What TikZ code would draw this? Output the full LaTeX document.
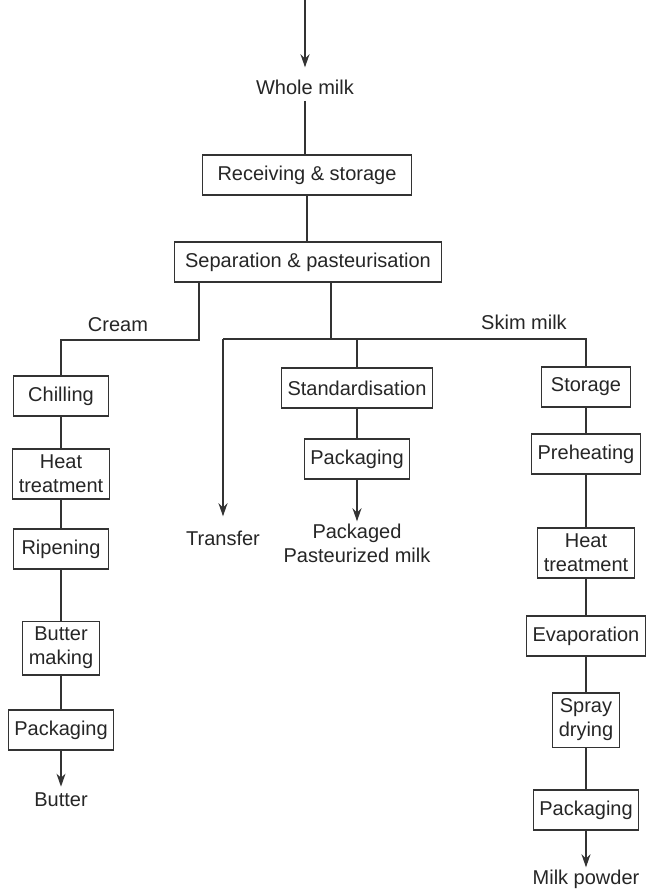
\documentclass[tikz,border=0pt]{standalone}
\usepackage{fontspec}
\setmainfont{Liberation Sans}
\usetikzlibrary{arrows.meta}

\tikzset{
  stage/.style={draw=black!80, line width=0.55pt, text=black!85, align=center,
    inner xsep=3pt, inner ysep=3pt, minimum height=20pt},
  flowtext/.style={text=black!85, align=center, inner sep=3pt},
  flow/.style={draw=black!80, line width=0.55pt},
  flowarrow/.style={flow, -{Stealth[length=6.5pt,width=4.5pt]}}
}

\begin{document}
\begin{tikzpicture}[x=0.5pt, y=-0.5pt]
\useasboundingbox[fill=white] (0,0) rectangle (653,891);

% main line
\coordinate (top) at (305,0);
\node[flowtext] (whole) at (305,87) {Whole milk};
\node[stage, minimum width=104.5pt] (recv) at (307,175) {Receiving \& storage};
\node[stage, minimum width=133.5pt] (sep) at (308,262) {Separation \& pasteurisation};
\draw[flowarrow, shorten >=3pt] (top) -- (whole.north);
\draw[flow] (whole.south) -- (whole.south |- recv.north);
\draw[flow] (recv.south) -- (recv.south |- sep.north);

% split
\coordinate (cL) at (199,340);
\coordinate (cR) at (331,339);
\node[flowtext] (cream) at (118,325) {Cream};
\node[flowtext] (skim) at (524,322) {Skim milk};

% cream line
\node[stage, minimum width=47.5pt] (chill) at (61,396) {Chilling};
\node[stage, minimum width=47.5pt] (heatL) at (61,474) {Heat\\treatment};
\node[stage, minimum width=47.5pt] (ripen) at (61,549) {Ripening};
\node[stage] (butmk) at (61,648) {Butter\\making};
\node[stage] (packL) at (61,730) {Packaging};
\node[flowtext] (butter) at (61,800) {Butter};
\draw[flow] (sep.south -| cL) -- (cL) -| (chill.north);
\draw[flow] (chill) -- (heatL);
\draw[flow] (heatL) -- (ripen);
\draw[flow] (ripen) -- (butmk);
\draw[flow] (butmk) -- (packL);
\draw[flowarrow] (packL) -- (butter);

% market milk
\node[flowtext] (transfer) at (223,538) {Transfer};
\node[stage] (std) at (357,388) {Standardisation};
\node[stage] (packM) at (357,459) {Packaging};
\node[flowtext, inner sep=1pt] (pasteur) at (357,543) {Packaged\\Pasteurized milk};
\draw[flow] (sep.south -| cR) -- (cR);
\draw[flowarrow, shorten >=4pt] (transfer.north |- cR) -- (transfer.north);
\draw[flow] (std.north |- cR) -- (std.north);
\draw[flow] (std) -- (packM);
\draw[flowarrow] (packM) -- (pasteur);

% skim milk line
\node[stage, minimum width=44.5pt] (store) at (586,387) {Storage};
\node[stage] (preheat) at (586,454) {Preheating};
\node[stage] (heatR) at (586,553) {Heat\\treatment};
\node[stage] (evap) at (586,636) {Evaporation};
\node[stage] (spray) at (586,720) {Spray\\drying};
\node[stage] (packR) at (586,810) {Packaging};
\node[flowtext, inner sep=1pt] (powder) at (586,879) {Milk powder};
\draw[flow] (transfer.north |- cR) -| (store.north);
\draw[flow] (store) -- (preheat);
\draw[flow] (preheat) -- (heatR);
\draw[flow] (heatR) -- (evap);
\draw[flow] (evap) -- (spray);
\draw[flow] (spray) -- (packR);
\draw[flowarrow] (packR) -- (powder);
\end{tikzpicture}
\end{document}
